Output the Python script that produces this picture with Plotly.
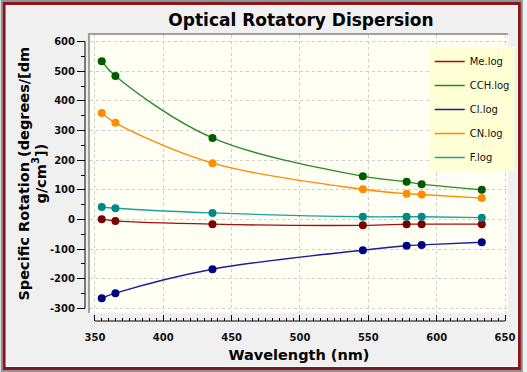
import plotly.graph_objects as go

# ---------------- data ----------------
WAVELENGTH = [355, 365, 436, 546, 578, 589, 633]
SERIES_NAMES = ["Me.log", "CCH.log", "Cl.log", "CN.log", "F.log"]
ME = [1, -5, -16, -20, -16, -16, -16]
CCH = [534, 484, 275, 146, 127, 119, 100]
CL = [-266, -249, -168, -104, -89, -86, -77]
CN = [359, 326, 190, 102, 87, 84, 72]
F = [42, 38, 22, 9, 9, 9, 6]
X_TICKS = [350, 400, 450, 500, 550, 600, 650]
Y_TICKS = [600, 500, 400, 300, 200, 100, 0, -100, -200, -300]
Y_TICK_TEXT = ["600", "500", "400", "300", "200", "100", "0", "-100", "-200", "-300"]

LINE_COLORS = ["#A01010", "#2A8A2A", "#1E1E9A", "#FF8C00", "#1FA0A0"]
MARKER_COLORS = ["#7A0000", "#005A00", "#000080", "#FF8C00", "#008888"]

# ---------------- geometry (pixels) ----------------
W, H = 527, 372
M_L, M_R, M_T, M_B = 85, 15, 35, 51          # margin box: axis lines at left/bottom
PW, PH = W - M_L - M_R, H - M_T - M_B
PLOT_LEFT, PLOT_BOTTOM = 90, 313


def px2x(px):
    return (px - M_L) / PW


def py2y(py):
    return (H - M_B - py) / PH


FONT = "DejaVu Sans"
fig = go.Figure()

series = [ME, CCH, CL, CN, F]
for i, (name, vals) in enumerate(zip(SERIES_NAMES, series)):
    fig.add_trace(go.Scatter(
        x=WAVELENGTH, y=vals, name=name, mode="lines",
        line=dict(color=LINE_COLORS[i], width=1.4, shape="spline", smoothing=1.0),
        legendgroup=name, showlegend=True,
    ))
for i, (name, vals) in enumerate(zip(SERIES_NAMES, series)):
    fig.add_trace(go.Scatter(
        x=WAVELENGTH, y=vals, name=name, mode="markers",
        marker=dict(color=MARKER_COLORS[i], size=8, symbol="circle"),
        legendgroup=name, showlegend=False, hoverinfo="skip",
    ))

# x range / y range chosen so that 350->95px, 650->509px, 600->41.7px, -300->308.3px
xpx_per = (509 - 95) / 300.0
x_lo = 350 - (95 - PLOT_LEFT) / xpx_per
x_hi = 650 + (W - M_R - 509) / xpx_per
ypx_per = (308.3 - 41.7) / 900.0
y_hi = 600 + (41.7 - M_T) / ypx_per
y_lo = -300 - (PLOT_BOTTOM - 308.3) / ypx_per

tickfont = dict(family=FONT, size=10, color="#111111", weight="bold")

fig.update_layout(
    width=W, height=H,
    margin=dict(l=M_L, r=M_R, t=M_T, b=M_B, pad=0),
    paper_bgcolor="#F0F0F0",
    plot_bgcolor="#FFFFF4",
    showlegend=True,
    title=dict(
        text="Optical Rotatory Dispersion", xref="container", yref="container",
        x=301 / W, y=1 - 20 / H, xanchor="center", yanchor="middle",
        font=dict(family=FONT, size=17, color="#000000", weight="bold"),
    ),
    xaxis=dict(
        domain=[px2x(PLOT_LEFT), 1], range=[x_lo, x_hi],
        anchor="free", position=0,
        tickvals=X_TICKS, ticks="inside", ticklen=6, tickcolor="#000000", tickwidth=1,
        minor=dict(dtick=5, ticks="inside", ticklen=3, tickcolor="#000000", showgrid=False),
        showgrid=True, gridcolor="#CFCFCF", griddash="dot", gridwidth=1,
        zeroline=False, showline=False, tickfont=tickfont, ticklabelstandoff=9,
        title=dict(text="Wavelength (nm)", font=dict(family=FONT, size=14.5, color="#000000", weight="bold"),
                   standoff=7),
    ),
    yaxis=dict(
        domain=[py2y(PLOT_BOTTOM), 1], range=[y_lo, y_hi],
        anchor="free", position=0,
        tickvals=Y_TICKS, ticktext=Y_TICK_TEXT,
        ticks="outside", ticklen=8, tickcolor="#000000", tickwidth=1,
        minor=dict(dtick=50, ticks="outside", ticklen=4, tickcolor="#000000", showgrid=False),
        showgrid=True, gridcolor="#CFCFCF", griddash="dot", gridwidth=1,
        zeroline=False, showline=False, tickfont=tickfont,
    ),
    legend=dict(
        x=px2x(433), y=py2y(47), xanchor="left", yanchor="top",
        bgcolor="#FFFFD6", borderwidth=0,
        font=dict(family=FONT, size=10, color="#111111"),
        tracegroupgap=5, itemwidth=30,
    ),
)

# y-axis title, two lines
fig.add_annotation(text="Specific Rotation (degrees/[dm", xref="paper", yref="paper",
                   x=px2x(23), y=py2y(174), textangle=-90, showarrow=False,
                   xanchor="center", yanchor="middle",
                   font=dict(family=FONT, size=14.5, color="#000000", weight="bold"))
fig.add_annotation(text="g/cm<sup>3</sup>])", xref="paper", yref="paper",
                   x=px2x(39), y=py2y(173), textangle=-90, showarrow=False,
                   xanchor="center", yanchor="middle",
                   font=dict(family=FONT, size=14.5, color="#000000", weight="bold"))

shapes = []
# axis lines spanning only the tick range
shapes.append(dict(type="line", xref="x", yref="paper", x0=X_TICKS[0], x1=X_TICKS[-1], y0=0, y1=0,
                   line=dict(color="#000000", width=1)))
shapes.append(dict(type="line", xref="paper", yref="y", x0=0, x1=0, y0=Y_TICKS[0], y1=Y_TICKS[-1],
                   line=dict(color="#000000", width=1)))
# sunken plot-area border (left & top)
shapes.append(dict(type="path", xref="paper", yref="paper",
                   path=f"M {px2x(89)},{py2y(PLOT_BOTTOM)} L {px2x(89)},{py2y(34)} L {px2x(W - M_R)},{py2y(34)}",
                   line=dict(color="#A0A0A0", width=2)))
# window frame
shapes.append(dict(type="rect", xref="paper", yref="paper", x0=px2x(1), x1=px2x(W - 1), y0=py2y(H - 1), y1=py2y(1),
                   line=dict(color="#8A949E", width=2)))
shapes.append(dict(type="rect", xref="paper", yref="paper", x0=px2x(3.5), x1=px2x(W - 3.5), y0=py2y(H - 3.5), y1=py2y(3.5),
                   line=dict(color="#8E1414", width=3)))
shapes.append(dict(type="rect", xref="paper", yref="paper", x0=px2x(5.5), x1=px2x(W - 5.5), y0=py2y(H - 5.5), y1=py2y(5.5),
                   line=dict(color="#FFFFFF", width=1)))
fig.update_layout(shapes=shapes)

fig.write_html(
    "out.html",
    config={"displayModeBar": False},
    post_script="document.body.style.margin='0';document.body.style.overflow='hidden';",
)
